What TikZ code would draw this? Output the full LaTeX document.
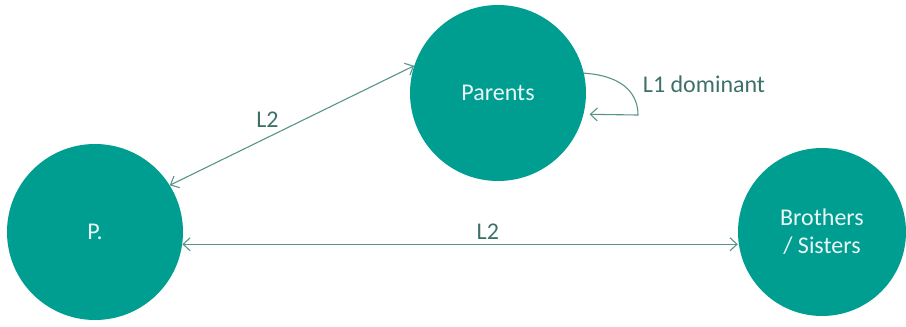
\documentclass[tikz,border=0pt]{standalone}
\usepackage{fontspec}
\setmainfont{Carlito}
\usetikzlibrary{arrows.meta}

\definecolor{teal}{RGB}{0,158,145}
\definecolor{linkcol}{RGB}{88,148,138}
\definecolor{labelcol}{RGB}{62,112,106}

\tikzset{
    person/.style={circle, fill=teal, inner sep=0pt, minimum size=#1, text=white!92!teal, font=\fontsize{24}{28}\selectfont, align=center},
    link/.style={line width=1.1pt, linkcol, {Straight Barb[length=7pt,width=13pt]}-{Straight Barb[length=7pt,width=13pt]}},
    lbl/.style={text=labelcol, font=\fontsize{24}{28}\selectfont}
}

\begin{document}
\begin{tikzpicture}[x=1pt, y=-1pt]
    \useasboundingbox (0,0) rectangle (906,327);

    \node[person=176pt] (P) at (95, 232) {P.};
    \node[person=176pt] (parents) at (498, 93) {Parents};
    \node[person=168pt] (siblings) at (822, 232) {Brothers\\/ Sisters};

    \draw[link] (P.32) -- (parents.162) node[lbl, pos=0.4, above=6pt] {L2};
    \draw[link] (P.-8.5) -- (P.-8.5 -| siblings.west) node[lbl, pos=0.55, above=1pt] {L2};

    % self loop on parents
    \coordinate (turn) at (638, 115);
    \draw[line width=1.1pt, linkcol, -{Straight Barb[length=7pt,width=13pt]}]
        (parents.13) .. controls (626, 76) and (638, 96) .. (turn) -- ([xshift=6pt]parents.-14);
    \node[lbl] (dominant) at (704, 84) {L1 dominant};
\end{tikzpicture}
\end{document}
